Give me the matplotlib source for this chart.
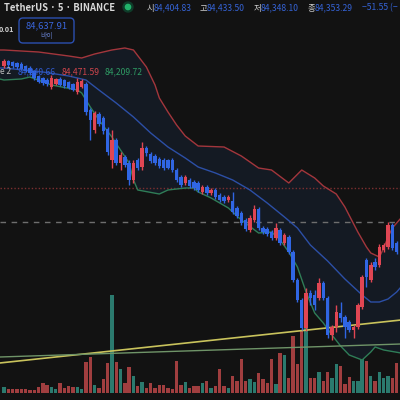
import numpy as np
import matplotlib.pyplot as plt
from matplotlib.patches import FancyBboxPatch, Circle

plt.rcParams['font.family'] = ['Noto Sans CJK KR', 'DejaVu Sans']

# 5-minute candles, TetherUS (BINANCE)
opens = [84634, 84639, 84638, 84637, 84636, 84634, 84632, 84629, 84624, 84622,
         84620, 84613, 84616, 84621, 84620, 84618, 84616, 84608, 84613, 84616,
         84590, 84570, 84586, 84582, 84571, 84540, 84560, 84537, 84543, 84537,
         84520, 84540, 84533, 84552, 84546, 84544, 84541, 84540, 84540, 84540,
         84530, 84523, 84517, 84520, 84518, 84517, 84508, 84513, 84507, 84510,
         84505, 84503, 84500, 84499, 84492, 84487, 84480, 84470, 84480, 84491,
         84472, 84471, 84468, 84462, 84470, 84457, 84463, 84448, 84420, 84400,
         84372, 84407, 84405, 84402, 84417, 84402, 84365, 84373, 84387, 84383,
         84378, 84370, 84373, 84393, 84440, 84420, 84438, 84435, 84450, 84453,
         84475, 84457]
highs = [84641, 84640, 84639, 84638, 84638, 84635, 84634, 84630, 84625, 84623,
         84622, 84625, 84622, 84623, 84621, 84619, 84617, 84622, 84621, 84618,
         84592, 84589, 84588, 84584, 84573, 84570, 84562, 84548, 84545, 84540,
         84540, 84542, 84558, 84554, 84548, 84546, 84543, 84542, 84541, 84542,
         84532, 84525, 84525, 84522, 84520, 84519, 84515, 84515, 84512, 84512,
         84507, 84505, 84505, 84508, 84494, 84489, 84482, 84485, 84495, 84493,
         84474, 84473, 84470, 84477, 84472, 84467, 84465, 84450, 84422, 84402,
         84412, 84410, 84410, 84422, 84419, 84404, 84375, 84395, 84398, 84385,
         84380, 84375, 84397, 84425, 84442, 84438, 84442, 84456, 84457, 84478,
         84477, 84459]
lows = [84632, 84633, 84632, 84631, 84630, 84628, 84625, 84620, 84617, 84615,
        84614, 84611, 84615, 84614, 84612, 84611, 84609, 84606, 84612, 84585,
        84560, 84567, 84574, 84566, 84545, 84532, 84535, 84530, 84533, 84515,
        84517, 84530, 84530, 84544, 84537, 84535, 84532, 84530, 84531, 84528,
        84518, 84513, 84515, 84512, 84510, 84508, 84506, 84505, 84505, 84501,
        84498, 84497, 84498, 84486, 84482, 84475, 84469, 84468, 84478, 84470,
        84466, 84464, 84460, 84460, 84455, 84455, 84446, 84418, 84398, 84370,
        84369, 84395, 84390, 84400, 84400, 84362, 84360, 84368, 84378, 84362,
        84368, 84362, 84371, 84391, 84413, 84418, 84430, 84433, 84448, 84451,
        84450, 84446]
closes = [84639, 84635, 84634, 84633, 84631, 84629, 84627, 84622, 84618, 84617,
          84616, 84622, 84621, 84615, 84614, 84612, 84610, 84618, 84619, 84588,
          84580, 84587, 84576, 84569, 84548, 84560, 84537, 84545, 84535, 84520,
          84537, 84532, 84552, 84547, 84539, 84537, 84534, 84532, 84532, 84530,
          84520, 84515, 84523, 84514, 84512, 84510, 84513, 84507, 84510, 84503,
          84500, 84499, 84503, 84488, 84484, 84477, 84471, 84482, 84491, 84472,
          84468, 84466, 84462, 84472, 84457, 84465, 84448, 84420, 84400, 84372,
          84407, 84402, 84395, 84417, 84402, 84365, 84373, 84388, 84382, 84373,
          84370, 84373, 84395, 84423, 84423, 84435, 84433, 84453, 84455, 84475,
          84452, 84448]
volumes = [6, 4, 4, 4, 4, 4, 3, 3, 6, 10.5,
           8, 6, 4, 10, 5, 7, 6, 5.7, 4, 31,
           36, 7.7, 5, 14, 30, 98, 31, 24, 10, 26,
           17, 6.7, 11, 5, 10, 5, 8, 8, 5, 4,
           32, 8, 11, 5, 6.7, 6.7, 10, 11.7, 5, 6.7,
           24, 6.7, 5, 16.7, 11.7, 34, 11.7, 14, 10.7, 20,
           14, 10, 34, 9.3, 40, 38.3, 15, 57, 29, 62,
           75, 15, 15, 20.7, 11.7, 21, 15, 29, 26.7, 9,
           16, 12, 11.7, 83, 32, 17, 12, 21, 15, 17,
           15, 30]

# Bollinger bands (bar index, price)
upper_idx = [-1, 0, 8, 15, 18, 21, 25, 28, 30, 33, 35, 36, 38, 40, 42, 45, 51, 55, 59,
             62, 66, 69, 72, 74, 77, 79, 82, 84, 85, 87, 88, 89, 90, 92]
upper_val = [84650, 84650, 84648, 84644, 84642, 84646, 84650, 84652, 84650, 84633, 84615,
             84602, 84588, 84575, 84564, 84554, 84553, 84544, 84532, 84530, 84517, 84530,
             84522, 84514, 84506, 84493, 84468, 84453, 84447, 84443, 84452, 84463, 84472, 84482]
basis_idx = [-1, 0, 9, 15, 19, 22, 26, 30, 34, 38, 42, 45, 49, 53, 57, 61, 65, 68, 71,
             75, 79, 83, 85, 87, 89, 91, 92]
basis_val = [84632, 84632, 84628, 84624, 84620, 84610, 84597, 84583, 84567, 84553, 84542,
             84533, 84527, 84520, 84510, 84497, 84483, 84472, 84455, 84439, 84421, 84405,
             84398, 84398, 84401, 84408, 84413]
lower_idx = [-1, 0, 4, 6, 11, 17, 18, 20, 22, 25, 29, 30, 31, 36, 38, 42, 44, 45, 48, 52,
             55, 59, 62, 64, 66, 68, 70, 72, 74, 76, 78, 80, 83, 85, 86, 88, 92]
lower_val = [84621, 84620, 84621, 84623, 84615, 84610, 84607, 84593, 84580, 84563, 84537,
             84520, 84510, 84506, 84510, 84512, 84512, 84508, 84502, 84492, 84480, 84467,
             84468, 84460, 84448, 84433, 84408, 84387, 84377, 84365, 84354, 84345, 84340,
             84348, 84353, 84350, 84347]

# drawn trend lines and horizontal levels
trend_idx = [-1, 92]
yellow_val = [84337, 84380]
green_val = [84343, 84356]
dotted_level = 84512
dashed_level = 84478

header = [("시", "84,404.83"), ("고", "84,433.50"), ("저", "84,348.10"), ("종", "84,353.29")]
header_x = [147, 200, 254, 308]

bg = '#121212'
up_c, down_c = '#e04653', '#3066e4'
vol_up, vol_down = '#2b7a6e', '#a03e3f'

fig = plt.figure(figsize=(4, 4), dpi=100, facecolor=bg)
xlim = (-4 / 4.315, 396 / 4.315)

vax = fig.add_axes([0, 0, 1, 1], zorder=0)
vax.set_facecolor(bg)
vax.set_xlim(*xlim)
vax.set_ylim(-7, 393)
vax.axis('off')

ax = fig.add_axes([0, 0, 1, 1], zorder=1)
ax.patch.set_alpha(0)
ax.set_xlim(*xlim)
ax.set_ylim(84300, 84700)
ax.axis('off')

x = np.arange(len(opens))
o = np.array(opens); c = np.array(closes)
up = c >= o

vax.bar(x, volumes, width=0.78, color=np.where(up, vol_up, vol_down), linewidth=0)

# band fill
grid = np.arange(-1, 93)
ui = np.interp(grid, upper_idx, upper_val)
li = np.interp(grid, lower_idx, lower_val)
ax.fill_between(grid, li, ui, color='#141a23', zorder=1, linewidth=0)

ax.axhline(dotted_level, color='#7c2f30', lw=1, ls=(0, (1, 1.5)), zorder=2)
ax.axhline(dashed_level, color='#6e6e6e', lw=1, ls=(0, (4, 4)), zorder=2)

ax.plot(upper_idx, upper_val, color='#a3363c', lw=1, zorder=3)
ax.plot(basis_idx, basis_val, color='#2c4fa6', lw=1, zorder=3)
ax.plot(lower_idx, lower_val, color='#2f7d57', lw=1, zorder=3)

ax.plot(trend_idx, yellow_val, color='#c9c35c', lw=1.2, zorder=3)
ax.plot(trend_idx, green_val, color='#6f9468', lw=1, zorder=3)

cols = np.where(up, up_c, down_c)
ax.vlines(x, lows, highs, colors=cols, lw=1, zorder=4)
ax.bar(x, np.maximum(np.abs(c - o), 1), bottom=np.minimum(o, c), width=0.8,
       color=cols, linewidth=0, zorder=5)

def px(xp, yp):
    return xp / 400, 1 - yp / 400

# header
fig.text(*px(4, 8), "TetherUS · 5 · BINANCE", color='#d8d8d8', fontsize=6.8,
         fontweight='bold', va='center', ha='left')
fig.patches.append(Circle(px(128, 7), 5 / 400, transform=fig.transFigure,
                          color='#0f3d2a'))
fig.patches.append(Circle(px(128, 7), 2.6 / 400, transform=fig.transFigure,
                          color='#22b26a'))
for (lab, val), hx in zip(header, header_x):
    fig.text(*px(hx, 8), lab, color='#cfcfcf', fontsize=6, va='center', ha='left')
    fig.text(*px(hx + 7, 8), val, color='#3563d6', fontsize=6.2, va='center', ha='left')
fig.text(*px(362, 8), "−51.55 (−", color='#3563d6', fontsize=6.2, va='center', ha='left')

# buy box
box = FancyBboxPatch(px(19, 43), 55 / 400, 25 / 400, boxstyle='round,pad=0,rounding_size=0.01',
                     transform=fig.transFigure, facecolor=bg, edgecolor='#2b4fb0', lw=1)
fig.patches.append(box)
fig.text(*px(46.5, 25.5), "84,637.91", color='#3a66dc', fontsize=6.8, va='center', ha='center')
fig.text(*px(46.5, 36), "바이", color='#5d74b8', fontsize=5, va='center', ha='center')
fig.text(*px(-1, 30), "0.01", color='#d0d0d0', fontsize=5.2, fontweight='bold', va='center', ha='left')

# indicator legend
fig.text(*px(0, 72), "e 2", color='#bdbdbd', fontsize=6, va='center', ha='left')
fig.text(*px(18, 72), "84,340.66", color='#2f5bd0', fontsize=6.2, va='center', ha='left')
fig.text(*px(62, 72), "84,471.59", color='#d0454c', fontsize=6.2, va='center', ha='left')
fig.text(*px(105, 72), "84,209.72", color='#2e9a63', fontsize=6.2, va='center', ha='left')

fig.savefig('out.png', dpi=100, facecolor=bg)
